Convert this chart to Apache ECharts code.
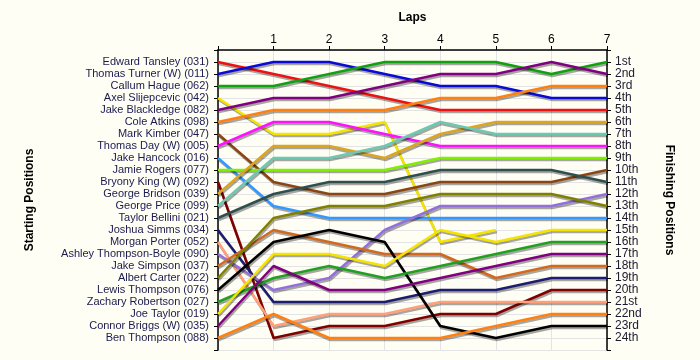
<!DOCTYPE html>
<html>
<head>
<meta charset="utf-8">
<script src="https://cdn.jsdelivr.net/npm/echarts@6/dist/echarts.min.js"></script>
<style>
html,body{margin:0;padding:0;background:#FFFEF4;}
#chart{width:700px;height:360px;}
</style>
</head>
<body>
<div id="chart"></div>
<script>
const drivers = [
  "Edward Tansley (031)", "Thomas Turner (W) (011)", "Callum Hague (062)", "Axel Slijepcevic (042)",
  "Jake Blackledge (082)", "Cole Atkins (098)", "Mark Kimber (047)", "Thomas Day (W) (005)",
  "Jake Hancock (016)", "Jamie Rogers (077)", "Bryony King (W) (092)", "George Bridson (039)",
  "George Price (099)", "Taylor Bellini (021)", "Joshua Simms (034)", "Morgan Porter (052)",
  "Ashley Thompson-Boyle (090)", "Jake Simpson (037)", "Albert Carter (022)", "Lewis Thompson (076)",
  "Zachary Robertson (027)", "Joe Taylor (019)", "Connor Briggs (W) (035)", "Ben Thompson (088)"
];
const finishLabels = ["1st","2nd","3rd","4th","5th","6th","7th","8th","9th","10th","11th","12th",
  "13th","14th","15th","16th","17th","18th","19th","20th","21st","22nd","23rd","24th"];
const laps = [0, 1, 2, 3, 4, 5, 6, 7];
const lapLabels = ["", "1", "2", "3", "4", "5", "6", "7"];

// position of each driver (in driver order) after each lap; lap0 = starting grid
const lap0 = [1,2,3,4,5,6,7,8,9,10,11,12,13,14,15,16,17,18,19,20,21,22,23,24];
const lap1 = [2,1,3,7,4,5,11,6,13,10,24,8,9,12,21,23,20,15,14,16,19,17,18,22];
const lap2 = [3,1,2,7,4,5,12,6,14,10,23,8,9,11,21,22,19,16,13,15,18,17,20,24];
const lap3 = [4,2,1,6,3,5,12,7,14,10,23,9,8,11,21,22,15,17,13,16,19,18,20,24];
const lap4 = [5,3,1,16,2,4,11,8,14,9,22,7,6,10,20,21,13,17,12,23,18,15,19,24];
const lap5 = [5,3,1,15,2,4,11,8,14,9,22,6,7,10,20,21,13,19,12,24,17,16,18,23];
const lap6 = [5,4,2,null,1,3,11,8,14,9,20,6,7,10,19,21,13,18,12,23,16,15,17,22];
const lap7 = [5,4,1,null,2,3,10,8,14,9,20,6,7,11,19,21,12,18,13,23,16,15,17,22];
const lapTable = [lap0, lap1, lap2, lap3, lap4, lap5, lap6, lap7];

const colors = ["#EE1111","#0A0AD8","#10A010","#F5E400","#800080","#FF8010","#8B4513","#FF10FF",
  "#3399FF","#80F000","#800000","#DAA520","#6CC8B0","#2F4F4F","#1C1C70","#FFA07A",
  "#9370DB","#D2691E","#808000","#000000","#20A020","#F5E400","#800080","#FF8010"];

const series = drivers.map((name, i) => ({
  name: name,
  type: 'line',
  yAxisIndex: 0,
  symbol: 'none',
  connectNulls: false,
  data: laps.filter(l => lapTable[l][i] !== null).map(l => [l, lapTable[l][i]]),
  lineStyle: {
    color: colors[i], width: 2.5,
    shadowColor: 'rgba(0,0,0,0.35)', shadowOffsetX: 1, shadowOffsetY: 2, shadowBlur: 0
  },
  itemStyle: { color: colors[i] },
  animation: false
}));

const chart = echarts.init(document.getElementById('chart'), null, {renderer: 'canvas'});
const fontFamily = '"Liberation Sans", Arial, sans-serif';
chart.setOption({
  backgroundColor: '#FFFEF4',
  animation: false,
  grid: { left: 218, right: 93, top: 50, bottom: 10, containLabel: false },
  xAxis: {
    type: 'value', position: 'top', min: 0, max: 7, interval: 1,
    name: 'Laps', nameLocation: 'middle', nameGap: 26,
    nameTextStyle: { fontFamily, fontSize: 12, fontWeight: 'bold', color: '#000' },
    axisLine: { show: true, lineStyle: { color: '#000', width: 1.5 } },
    axisTick: { show: true, length: 4, lineStyle: { color: '#000' } },
    axisLabel: { fontFamily, fontSize: 12, color: '#000', margin: 4,
      formatter: v => lapLabels[v] || '' },
    splitLine: { show: true, lineStyle: { color: '#E4E4E4', width: 1 } }
  },
  yAxis: [
    {
      type: 'value', position: 'left', inverse: true, min: 0, max: 25, interval: 1,
      name: 'Starting Positions', nameLocation: 'middle', nameGap: 182, nameRotate: 90,
      nameTextStyle: { fontFamily, fontSize: 12, fontWeight: 'bold', color: '#000' },
      axisLine: { show: true, lineStyle: { color: '#000', width: 1.5 } },
      axisTick: { show: true, length: 4, lineStyle: { color: '#000' } },
      axisLabel: { fontFamily, fontSize: 11, color: '#1A1A50', margin: 9,
        formatter: v => (v >= 1 && v <= 24) ? drivers[v - 1] : '' },
      splitLine: { show: true, lineStyle: { color: '#E4E4E4', width: 1 } }
    },
    {
      type: 'value', position: 'right', inverse: true, min: 0, max: 25, interval: 1,
      name: 'Finishing Positions', nameLocation: 'middle', nameGap: 56, nameRotate: -90,
      nameTextStyle: { fontFamily, fontSize: 12, fontWeight: 'bold', color: '#000' },
      axisLine: { show: true, lineStyle: { color: '#000', width: 1.5 } },
      axisTick: { show: true, length: 4, lineStyle: { color: '#000' } },
      axisLabel: { fontFamily, fontSize: 12, color: '#1A1A30', margin: 8,
        formatter: v => (v >= 1 && v <= 24) ? finishLabels[v - 1] : '' },
      splitLine: { show: false }
    }
  ],
  series: series
});
</script>
</body>
</html>
